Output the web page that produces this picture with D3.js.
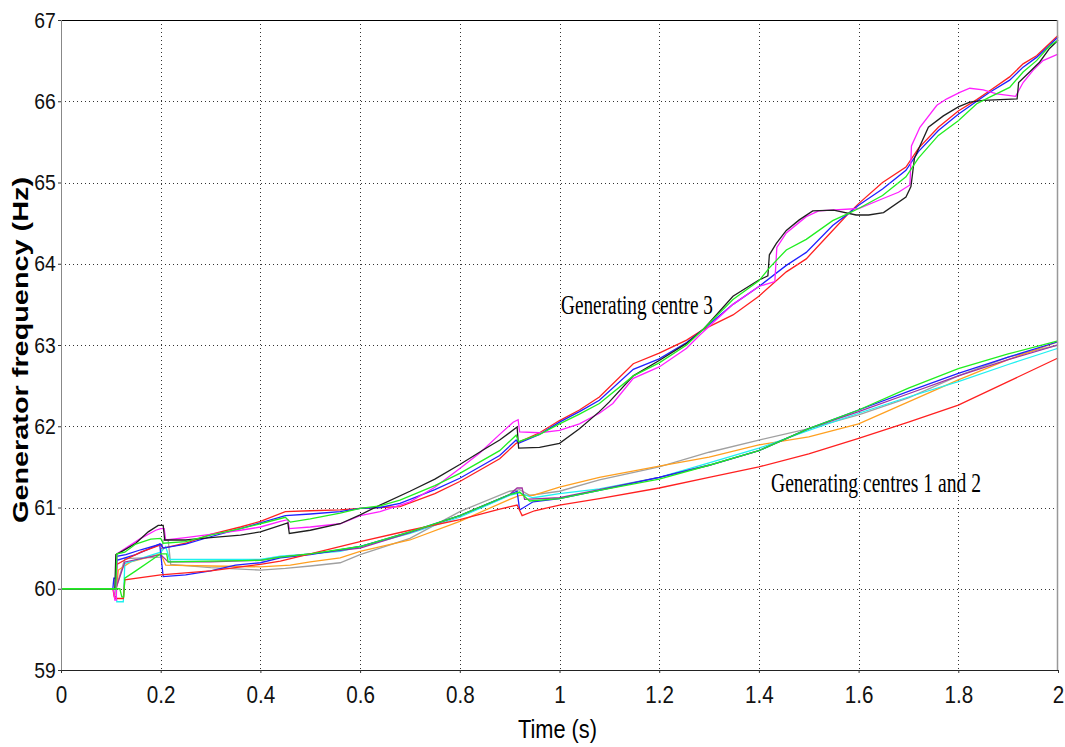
<!DOCTYPE html>
<html>
<head>
<meta charset="utf-8">
<script src="https://cdn.jsdelivr.net/npm/d3@7"></script>
<style>
  body { margin: 0; background: #fff; }
  svg { display: block; }
</style>
</head>
<body>
<div id="chart"></div>
<script>
// axis ticks
var timeTicks = [0, 0.2, 0.4, 0.6, 0.8, 1, 1.2, 1.4, 1.6, 1.8, 2];
var freqTicks = [59, 60, 61, 62, 63, 64, 65, 66, 67];

// generating centre 3 : [time (s), frequency (Hz)]
var black3 = [[0,60],[0.108,60],[0.11,60.42],[0.125,60.47],[0.15,60.56],[0.175,60.7],[0.195,60.78],[0.205,60.78],[0.208,60.6],[0.25,60.6],[0.3,60.63],[0.36,60.66],[0.4,60.7],[0.44,60.78],[0.455,60.81],[0.458,60.68],[0.5,60.72],[0.56,60.8],[0.6,60.91],[0.64,61.03],[0.7,61.2],[0.75,61.35],[0.8,61.53],[0.85,61.72],[0.88,61.83],[0.915,61.99],[0.918,61.73],[0.96,61.74],[1.0,61.79],[1.04,61.97],[1.08,62.18],[1.1,62.3],[1.148,62.62],[1.2,62.81],[1.255,63.02],[1.288,63.19],[1.3,63.27],[1.348,63.6],[1.4,63.8],[1.418,63.85],[1.421,64.11],[1.435,64.25],[1.455,64.41],[1.481,64.54],[1.508,64.65],[1.55,64.66],[1.595,64.6],[1.62,64.6],[1.65,64.63],[1.695,64.82],[1.705,64.95],[1.712,65.3],[1.74,65.68],[1.77,65.82],[1.8,65.93],[1.823,65.99],[1.85,66.01],[1.918,66.03],[1.921,66.23],[1.943,66.36],[1.963,66.48],[1.983,66.65],[2.0,66.75]];
var magenta3 = [[0,60],[0.105,60],[0.108,59.86],[0.111,59.86],[0.112,60.43],[0.13,60.5],[0.16,60.62],[0.19,60.72],[0.2,60.74],[0.207,60.74],[0.21,60.6],[0.25,60.63],[0.3,60.67],[0.36,60.72],[0.4,60.76],[0.44,60.83],[0.455,60.85],[0.458,60.74],[0.5,60.76],[0.56,60.8],[0.6,60.9],[0.64,60.95],[0.7,61.07],[0.75,61.25],[0.8,61.48],[0.84,61.67],[0.88,61.9],[0.907,62.05],[0.917,62.08],[0.92,61.93],[0.96,61.92],[1.0,61.95],[1.04,62.03],[1.08,62.16],[1.107,62.28],[1.148,62.59],[1.2,62.73],[1.255,62.96],[1.281,63.12],[1.348,63.5],[1.4,63.72],[1.432,63.78],[1.436,64.2],[1.455,64.38],[1.495,64.58],[1.52,64.65],[1.6,64.68],[1.648,64.8],[1.68,64.88],[1.703,64.97],[1.706,65.45],[1.723,65.68],[1.757,65.95],[1.777,66.03],[1.803,66.11],[1.823,66.16],[1.85,66.14],[1.877,66.09],[1.915,66.06],[1.93,66.23],[1.95,66.38],[1.97,66.5],[2.0,66.58]];
var green3 = [[0,60],[0.11,60],[0.112,60.43],[0.128,60.45],[0.15,60.55],[0.18,60.61],[0.2,60.62],[0.205,60.56],[0.25,60.58],[0.3,60.66],[0.36,60.74],[0.4,60.8],[0.45,60.88],[0.46,60.82],[0.5,60.86],[0.56,60.93],[0.6,60.99],[0.64,61.02],[0.68,61.09],[0.75,61.27],[0.8,61.42],[0.88,61.7],[0.913,61.89],[0.918,61.81],[0.96,61.9],[1.0,62.03],[1.04,62.15],[1.08,62.28],[1.148,62.62],[1.2,62.78],[1.255,63.0],[1.288,63.19],[1.348,63.56],[1.4,63.79],[1.421,63.95],[1.455,64.17],[1.495,64.3],[1.548,64.53],[1.58,64.62],[1.6,64.68],[1.648,64.84],[1.695,65.07],[1.72,65.3],[1.76,65.58],[1.8,65.76],[1.837,65.97],[1.863,66.05],[1.903,66.17],[1.93,66.36],[1.957,66.5],[1.983,66.68],[2.0,66.75]];
var blue3 = [[0,60],[0.11,60],[0.112,60.4],[0.13,60.42],[0.16,60.48],[0.2,60.55],[0.205,60.5],[0.25,60.55],[0.3,60.64],[0.36,60.74],[0.4,60.81],[0.45,60.9],[0.5,60.92],[0.56,60.95],[0.6,60.99],[0.64,61.0],[0.68,61.05],[0.75,61.22],[0.8,61.36],[0.88,61.64],[0.913,61.83],[0.918,61.79],[0.96,61.9],[1.0,62.05],[1.04,62.18],[1.08,62.32],[1.148,62.7],[1.2,62.83],[1.255,63.03],[1.288,63.19],[1.348,63.5],[1.4,63.72],[1.455,63.98],[1.495,64.14],[1.548,64.47],[1.58,64.62],[1.6,64.72],[1.648,64.92],[1.695,65.15],[1.72,65.38],[1.76,65.64],[1.8,65.84],[1.837,66.0],[1.863,66.11],[1.903,66.26],[1.93,66.42],[1.957,66.54],[1.983,66.69],[2.0,66.79]];
var red3 = [[0,60],[0.104,60],[0.107,59.9],[0.111,59.9],[0.112,60.3],[0.13,60.36],[0.16,60.45],[0.2,60.54],[0.205,60.5],[0.25,60.56],[0.3,60.67],[0.36,60.76],[0.4,60.83],[0.45,60.95],[0.5,60.96],[0.56,60.97],[0.6,60.99],[0.64,61.0],[0.68,61.01],[0.75,61.17],[0.8,61.32],[0.88,61.6],[0.913,61.79],[0.96,61.92],[1.0,62.07],[1.04,62.2],[1.08,62.36],[1.148,62.77],[1.2,62.9],[1.255,63.06],[1.288,63.19],[1.348,63.37],[1.4,63.6],[1.455,63.9],[1.495,64.06],[1.548,64.41],[1.58,64.62],[1.6,64.74],[1.648,65.0],[1.695,65.19],[1.72,65.42],[1.76,65.68],[1.8,65.88],[1.837,66.02],[1.863,66.13],[1.903,66.3],[1.93,66.46],[1.957,66.56],[1.983,66.71],[2.0,66.81]];

// generating centres 1 and 2
var red12 = [[0,60],[0.105,60],[0.108,59.88],[0.125,59.88],[0.128,60.11],[0.2,60.17],[0.3,60.22],[0.4,60.3],[0.44,60.34],[0.5,60.43],[0.6,60.58],[0.7,60.72],[0.8,60.85],[0.88,60.98],[0.915,61.03],[0.925,60.9],[0.95,60.96],[1.0,61.03],[1.08,61.11],[1.2,61.24],[1.3,61.37],[1.4,61.5],[1.5,61.66],[1.6,61.85],[1.7,62.05],[1.8,62.26],[1.9,62.55],[2.0,62.84]];
var orange12 = [[0,60],[0.108,60],[0.112,60.05],[0.115,60.23],[0.14,60.33],[0.2,60.43],[0.21,60.29],[0.3,60.28],[0.4,60.27],[0.46,60.29],[0.5,60.33],[0.56,60.38],[0.6,60.46],[0.7,60.6],[0.8,60.83],[0.9,61.1],[0.92,61.15],[0.947,61.15],[1.0,61.25],[1.08,61.37],[1.2,61.51],[1.3,61.62],[1.4,61.77],[1.5,61.87],[1.6,62.03],[1.7,62.3],[1.8,62.57],[1.9,62.82],[2.0,63.04]];
var gray12 = [[0,60],[0.11,60],[0.128,60.37],[0.2,60.39],[0.205,60.6],[0.215,60.6],[0.22,60.3],[0.3,60.26],[0.4,60.23],[0.45,60.25],[0.5,60.28],[0.56,60.32],[0.6,60.42],[0.7,60.62],[0.8,60.95],[0.9,61.2],[0.92,61.22],[0.94,61.15],[1.0,61.2],[1.08,61.34],[1.2,61.5],[1.3,61.68],[1.4,61.83],[1.5,61.97],[1.6,62.14],[1.7,62.35],[1.8,62.62],[1.9,62.85],[2.0,63.0]];
var cyan12 = [[0,60],[0.11,60],[0.112,59.84],[0.125,59.84],[0.128,60.31],[0.2,60.45],[0.21,60.52],[0.218,60.36],[0.3,60.36],[0.4,60.36],[0.44,60.4],[0.5,60.43],[0.56,60.46],[0.6,60.52],[0.7,60.68],[0.8,60.88],[0.9,61.15],[0.92,61.18],[0.947,61.12],[1.0,61.17],[1.08,61.23],[1.2,61.37],[1.3,61.55],[1.4,61.73],[1.5,61.95],[1.6,62.16],[1.7,62.36],[1.8,62.55],[1.9,62.76],[2.0,62.96]];
var blue12 = [[0,60],[0.104,60],[0.106,60.13],[0.11,60.13],[0.112,60.35],[0.15,60.42],[0.18,60.5],[0.198,60.55],[0.205,60.15],[0.25,60.17],[0.3,60.22],[0.35,60.29],[0.4,60.32],[0.44,60.38],[0.5,60.42],[0.6,60.52],[0.7,60.7],[0.8,60.9],[0.9,61.16],[0.915,61.2],[0.92,60.97],[0.947,61.07],[1.0,61.11],[1.08,61.21],[1.2,61.37],[1.3,61.52],[1.4,61.7],[1.5,61.97],[1.6,62.2],[1.7,62.43],[1.8,62.65],[1.9,62.85],[2.0,63.04]];
var green12 = [[0,60],[0.118,60],[0.122,59.9],[0.126,59.9],[0.128,60.13],[0.15,60.22],[0.2,60.43],[0.212,60.43],[0.215,60.33],[0.3,60.34],[0.4,60.35],[0.44,60.39],[0.5,60.43],[0.6,60.52],[0.7,60.7],[0.8,60.9],[0.9,61.16],[0.92,61.19],[0.94,61.08],[1.0,61.11],[1.08,61.21],[1.2,61.35],[1.3,61.52],[1.4,61.7],[1.5,61.97],[1.6,62.2],[1.7,62.47],[1.8,62.71],[1.9,62.89],[2.0,63.05]];
var purple12 = [[0,60],[0.11,60],[0.128,60.33],[0.2,60.42],[0.215,60.33],[0.3,60.33],[0.4,60.35],[0.44,60.39],[0.5,60.43],[0.6,60.5],[0.7,60.69],[0.8,60.9],[0.9,61.16],[0.915,61.24],[0.925,61.24],[0.93,61.1],[1.0,61.12],[1.08,61.22],[1.2,61.37],[1.3,61.52],[1.4,61.7],[1.5,61.97],[1.6,62.18],[1.7,62.4],[1.8,62.62],[1.9,62.82],[2.0,63.0]];

// drawing order: last one ends up on top (green is the visible trace before the fault)
var series = [
  { data: gray12, color: "#a0a0a0" },
  { data: orange12, color: "#ffa020" },
  { data: cyan12, color: "#20f0f0" },
  { data: purple12, color: "#a030a0" },
  { data: blue12, color: "#2020ff" },
  { data: red12, color: "#ff2020" },
  { data: red3, color: "#ff2020" },
  { data: blue3, color: "#2020ff" },
  { data: magenta3, color: "#ff20ff" },
  { data: black3, color: "#202020" },
  { data: green12, color: "#20ee20" },
  { data: green3, color: "#20ee20" }
];

var svgWidth = 1065, svgHeight = 747;
var margin = { top: 20, right: 7, bottom: 77, left: 61 };
var width = svgWidth - margin.left - margin.right;
var height = svgHeight - margin.top - margin.bottom;

var svg = d3.select("#chart").append("svg")
  .attr("width", svgWidth)
  .attr("height", svgHeight)
  .style("background", "#fff");

var g = svg.append("g")
  .attr("transform", "translate(" + margin.left + "," + margin.top + ")");

var x = d3.scaleLinear().domain([0, 2]).range([0, width]);
var y = d3.scaleLinear().domain([59, 67]).range([height, 0]);

// dotted grid
g.append("g").selectAll("line")
  .data(timeTicks.slice(1, -1))
  .enter().append("line")
  .attr("x1", d => Math.round(x(d)) + 0.5).attr("x2", d => Math.round(x(d)) + 0.5)
  .attr("y1", 0).attr("y2", height)
  .attr("stroke", "#333").attr("stroke-dasharray", "1,3");
g.append("g").selectAll("line")
  .data(freqTicks.slice(1, -1))
  .enter().append("line")
  .attr("y1", d => Math.round(y(d)) + 0.5).attr("y2", d => Math.round(y(d)) + 0.5)
  .attr("x1", 0).attr("x2", width)
  .attr("stroke", "#333").attr("stroke-dasharray", "1,3");

// curves
var line = d3.line().x(d => x(d[0])).y(d => y(d[1]));
g.append("g").selectAll("path")
  .data(series)
  .enter().append("path")
  .attr("d", d => line(d.data))
  .attr("fill", "none")
  .attr("stroke", d => d.color)
  .attr("stroke-width", 1.3)
  .attr("stroke-linejoin", "miter");

// frame
g.append("line").attr("x1", 0).attr("x2", width).attr("y1", 0.5).attr("y2", 0.5).attr("stroke", "#000");
g.append("line").attr("x1", width - 0.5).attr("x2", width - 0.5).attr("y1", 0).attr("y2", height).attr("stroke", "#999").attr("stroke-width", 1.5);
g.append("line").attr("x1", 0.5).attr("x2", 0.5).attr("y1", 0).attr("y2", height).attr("stroke", "#888");
g.append("line").attr("x1", 0).attr("x2", width).attr("y1", height + 0.5).attr("y2", height + 0.5).attr("stroke", "#222");

// axes
var fmt = d => String(+d.toFixed(1));
var xAxis = g.append("g")
  .attr("transform", "translate(0," + height + ")")
  .call(d3.axisBottom(x).tickValues(timeTicks).tickFormat(fmt).tickSize(3).tickPadding(13));
var yAxis = g.append("g")
  .call(d3.axisLeft(y).tickValues(freqTicks).tickFormat(fmt).tickSize(3).tickPadding(3));

[xAxis, yAxis].forEach(function(a) {
  a.select(".domain").remove();
  a.selectAll(".tick line").attr("stroke", "#333");
  a.selectAll("text")
    .attr("fill", "#111")
    .style("font-family", "'Liberation Sans', Arial, sans-serif");
});
xAxis.selectAll("text").style("font-size", "24px").attr("transform", "scale(0.86,1)");
yAxis.selectAll("text").style("font-size", "22px").attr("transform", "scale(0.88,1)");

// axis titles
svg.append("text")
  .attr("transform", "translate(28,350) rotate(-90)")
  .attr("text-anchor", "middle")
  .attr("textLength", 346)
  .attr("lengthAdjust", "spacingAndGlyphs")
  .style("font-family", "'Liberation Sans', Arial, sans-serif")
  .style("font-weight", "bold")
  .style("font-size", "22px")
  .text("Generator frequency (Hz)");

svg.append("text")
  .attr("x", 518).attr("y", 738)
  .attr("textLength", 79)
  .attr("lengthAdjust", "spacingAndGlyphs")
  .style("font-family", "'Liberation Sans', Arial, sans-serif")
  .style("font-size", "25px")
  .text("Time (s)");

// annotations
svg.append("text")
  .attr("x", 561).attr("y", 314)
  .attr("textLength", 152)
  .attr("lengthAdjust", "spacingAndGlyphs")
  .style("font-family", "'Liberation Serif', 'Times New Roman', serif")
  .style("font-size", "27px")
  .text("Generating centre 3");

svg.append("text")
  .attr("x", 771).attr("y", 492)
  .attr("textLength", 210)
  .attr("lengthAdjust", "spacingAndGlyphs")
  .style("font-family", "'Liberation Serif', 'Times New Roman', serif")
  .style("font-size", "27px")
  .text("Generating centres 1 and 2");
</script>
</body>
</html>
